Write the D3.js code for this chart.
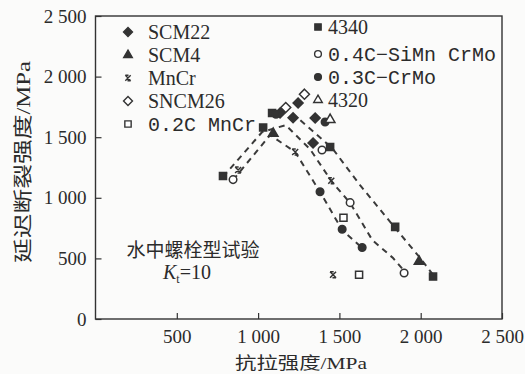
<!DOCTYPE html>
<html>
<head>
<meta http-equiv="Content-Type" content="text/html; charset=utf-8">
<script src="https://cdnjs.cloudflare.com/ajax/libs/d3/7.8.5/d3.min.js"></script>
<style>
  body { margin: 0; background: #fbfbfa; }
  svg text { fill: #2b2b2b; }
</style>
</head>
<body>
<div id="chart"></div>
<script type="text/javascript">

// ---------------------------------------------- DATA
var xTicks = [500, 1000, 1500, 2000, 2500];
var xTickLabels = ["500", "1 000", "1 500", "2 000", "2 500"];
var yTicks = [0, 500, 1000, 1500, 2000, 2500];
var yTickLabels = ["0", "500", "1 000", "1 500", "2 000", "2 500"];

var scm22  = [[1135, 1700], [1246, 1782], [1215, 1660], [1351, 1658], [1338, 1452]];
var scm4   = [[1093, 1530], [1990, 475]];
var mncr   = [[877, 1230], [1228, 1378], [1450, 1140], [1461, 365]];
var sncm26 = [[1170, 1745], [1285, 1855]];
var c02mncr = [[1525, 835], [1621, 365]];
var s4340  = [[784, 1180], [1031, 1580], [1086, 1700], [1443, 1419], [1843, 760], [2076, 350]];
var c04    = [[846, 1150], [1393, 1394], [1566, 960], [1898, 380]];
var c03    = [[1110, 1690], [1412, 1625], [1381, 1050], [1517, 740], [1640, 590]];
var s4320  = [[1443, 1645]];

// dashed trend curves
var curveA = [[784, 1172], [1025, 1543], [1170, 1600], [1320, 1400], [1455, 1130], [1566, 957], [1640, 792], [1702, 652], [1830, 503], [1904, 388]];
var curveB = [[846, 1147], [1074, 1518], [1228, 1378], [1381, 1048], [1517, 734], [1640, 586]];
var curveC = [[1260, 1640], [1455, 1411], [1627, 1105], [1843, 751], [1997, 503], [2077, 363]];

// ---------------------------------------------- SVG
var width = 525, height = 374;
var svg = d3.select("#chart").append("svg")
  .attr("width", width)
  .attr("height", height);

var x = d3.scaleLinear().domain([0, 2500]).range([95.5, 502]);
var y = d3.scaleLinear().domain([0, 2500]).range([319, 16]);

var ink = "#333";

// custom markers
var symbolCrossBar = {
  draw: function(ctx, size) {
    var r = Math.sqrt(size) / 2;
    ctx.moveTo(-r, -r); ctx.lineTo(r, r);
    ctx.moveTo(r, -r); ctx.lineTo(-r, r);
    ctx.moveTo(-r, -r); ctx.lineTo(r * 0.2, -r);
    ctx.moveTo(-r * 0.2, r); ctx.lineTo(r, r);
  }
};
var symbolRhomb = {
  draw: function(ctx, size) {
    var r = Math.sqrt(size / 2);
    ctx.moveTo(0, -r); ctx.lineTo(r, 0); ctx.lineTo(0, r); ctx.lineTo(-r, 0); ctx.closePath();
  }
};

var series = [
  {name: "SCM22", data: scm22, type: symbolRhomb, size: 50, fill: ink},
  {name: "SCM4", data: scm4, type: d3.symbolTriangle, size: 40, fill: ink},
  {name: "MnCr", data: mncr, type: symbolCrossBar, size: 36, fill: "none"},
  {name: "SNCM26", data: sncm26, type: symbolRhomb, size: 50, fill: "#fff"},
  {name: "0.2C MnCr", data: c02mncr, type: d3.symbolSquare, size: 50, fill: "#fff"},
  {name: "4340", data: s4340, type: d3.symbolSquare, size: 50, fill: ink},
  {name: "0.4C\u2212SiMn CrMo", data: c04, type: d3.symbolCircle, size: 45, fill: "#fff"},
  {name: "0.3C\u2212CrMo", data: c03, type: d3.symbolCircle, size: 45, fill: ink},
  {name: "4320", data: s4320, type: d3.symbolTriangle, size: 40, fill: "#fff"}
];

// ---------------------------------------------- AXES
svg.append("g")
  .attr("transform", "translate(0," + y(0) + ")")
  .call(d3.axisBottom(x).tickValues(xTicks)
    .tickFormat(function(d, i) { return xTickLabels[i]; })
    .tickSizeInner(-6).tickSizeOuter(0).tickPadding(11));

svg.append("g")
  .attr("transform", "translate(" + x(0) + ",0)")
  .call(d3.axisLeft(y).tickValues(yTicks)
    .tickFormat(function(d, i) { return yTickLabels[i]; })
    .tickSizeInner(-6).tickSizeOuter(0).tickPadding(9));

svg.selectAll(".domain").remove();
svg.selectAll(".tick line").attr("stroke", ink).attr("stroke-width", 1.2);
svg.selectAll(".tick text")
  .style("font-family", "'Liberation Serif', serif")
  .style("font-size", "19px")
  .attr("fill", "#2b2b2b");

// frame
svg.append("rect")
  .attr("x", x(0)).attr("y", y(2500))
  .attr("width", x(2500) - x(0)).attr("height", y(0) - y(2500))
  .attr("fill", "none").attr("stroke", ink).attr("stroke-width", 1.4);

// axis titles
var xt = svg.append("text")
  .attr("x", 301).attr("y", 369)
  .attr("text-anchor", "middle")
  .attr("textLength", 132).attr("lengthAdjust", "spacingAndGlyphs")
  .style("font-size", "17px");
xt.append("tspan").style("font-family", "'Noto Sans CJK SC', sans-serif").text("抗拉强度");
xt.append("tspan").style("font-family", "'Liberation Serif', serif").text("/MPa");

var yt = svg.append("text")
  .attr("transform", "translate(30,162) rotate(-90)")
  .attr("text-anchor", "middle")
  .attr("textLength", 202).attr("lengthAdjust", "spacingAndGlyphs")
  .style("font-size", "19px");
yt.append("tspan").style("font-family", "'Noto Sans CJK SC', sans-serif").text("延迟断裂强度");
yt.append("tspan").style("font-family", "'Liberation Serif', serif").text("/MPa");

// ---------------------------------------------- DASHED CURVES
var line = d3.line()
  .x(function(d) { return x(d[0]); })
  .y(function(d) { return y(d[1]); });

svg.append("g").selectAll("path")
  .data([curveA, curveB, curveC])
  .enter().append("path")
  .attr("d", line)
  .attr("fill", "none")
  .attr("stroke", "#3a3a3a")
  .attr("stroke-width", 2)
  .attr("stroke-dasharray", "6,5");

// ---------------------------------------------- MARKERS
series.forEach(function(s) {
  svg.append("g").selectAll("path")
    .data(s.data)
    .enter().append("path")
    .attr("transform", function(d) { return "translate(" + x(d[0]) + "," + y(d[1]) + ")"; })
    .attr("d", d3.symbol().type(s.type).size(s.size))
    .attr("fill", s.fill)
    .attr("stroke", ink)
    .attr("stroke-width", 1.5);
});

// ---------------------------------------------- LEGEND
var legendPos = [
  [128, 32], [128, 55], [128, 78], [128, 101], [128, 124],
  [318, 27], [318, 54], [318, 77], [318, 100]
];
var monoNames = ["0.2C MnCr", "0.4C\u2212SiMn CrMo", "0.3C\u2212CrMo"];

var legend = svg.append("g");
series.forEach(function(s, i) {
  var p = legendPos[i];
  legend.append("path")
    .attr("transform", "translate(" + p[0] + "," + p[1] + ")")
    .attr("d", d3.symbol().type(s.type).size(s.size * 0.8))
    .attr("fill", s.fill)
    .attr("stroke", ink)
    .attr("stroke-width", 1.4);
  var mono = monoNames.indexOf(s.name) >= 0;
  legend.append("text")
    .attr("x", p[0] + (i < 5 ? 20 : 10))
    .attr("y", p[1] + 7)
    .style("font-family", mono ? "'Liberation Mono', monospace" : "'Liberation Serif', serif")
    .style("font-size", "20px")
    .text(s.name);
});

// ---------------------------------------------- NOTE
svg.append("text")
  .attr("x", 193).attr("y", 257)
  .attr("text-anchor", "middle")
  .style("font-family", "'Noto Sans CJK SC', sans-serif")
  .style("font-size", "19px")
  .text("水中螺栓型试验");

var note = svg.append("text")
  .attr("x", 163).attr("y", 279)
  .style("font-family", "'Liberation Serif', serif")
  .style("font-size", "20px");
note.append("tspan").style("font-style", "italic").text("K");
note.append("tspan").attr("dy", 4).style("font-size", "12px").text("t");
note.append("tspan").attr("dy", -4).text("=10");

</script>
</body>
</html>
